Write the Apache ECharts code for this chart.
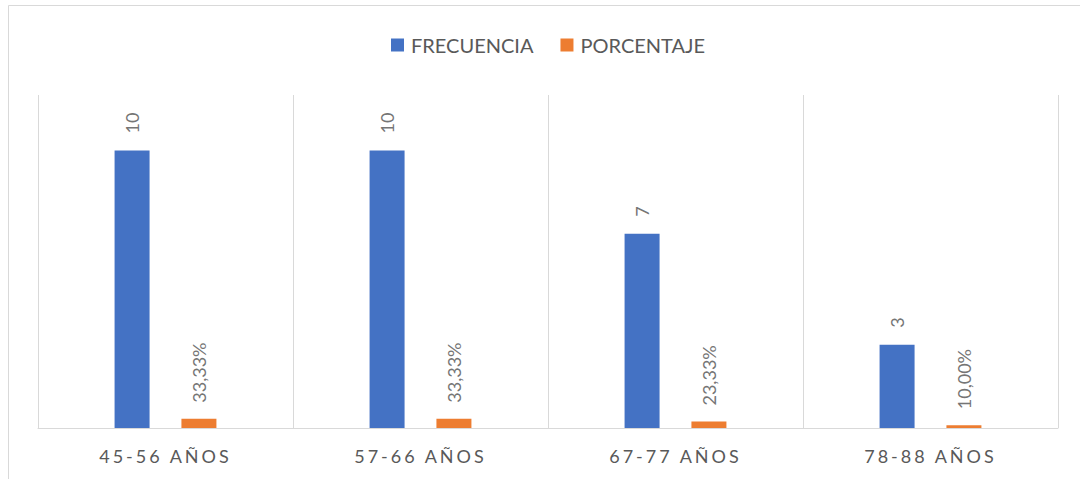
<!DOCTYPE html>
<html>
<head>
<meta charset="utf-8">
<script src="https://cdn.jsdelivr.net/npm/echarts@6/dist/echarts.min.js"></script>
<style>
  html, body { margin: 0; padding: 0; background: #fff; }
  #chart { width: 1080px; height: 479px; }
  /* category labels are spaced out like the original */
  #chart text[style*="DejaVu"] { letter-spacing: 3px; }
</style>
</head>
<body>
<div id="chart"></div>
<script>
  var categories = ['45-56 AÑOS', '57-66 AÑOS', '67-77 AÑOS', '78-88 AÑOS'];
  var frecuencia = [10, 10, 7, 3];
  var porcentaje = [0.3333, 0.3333, 0.2333, 0.10];

  var grayText = '#595959';
  var labelFont = 'Lato, "Open Sans", sans-serif';

  var chart = echarts.init(document.getElementById('chart'), null, { renderer: 'svg' });
  chart.setOption({
    animation: false,
    textStyle: { fontFamily: labelFont },
    graphic: [{
      type: 'rect',
      shape: { x: 8.5, y: 5.5, width: 1100, height: 500 },
      style: { fill: 'none', stroke: '#d9d9d9', lineWidth: 1 },
      z: -1
    }],
    legend: {
      top: 30,
      left: 386,
      itemWidth: 13,
      itemHeight: 13,
      itemGap: 27,
      icon: 'rect',
      textStyle: { fontSize: 20, color: grayText, fontFamily: labelFont, padding: [0, 0, 0, 2] },
      data: ['FRECUENCIA', 'PORCENTAJE']
    },
    grid: { left: 38, right: 22, top: 95, bottom: 51 },
    xAxis: {
      type: 'category',
      data: categories,
      axisTick: { show: false },
      axisLine: { lineStyle: { color: '#d9d9d9', width: 1 } },
      axisLabel: { fontSize: 18, color: grayText, margin: 19, fontFamily: 'Lato, "DejaVu Sans"' },
      splitLine: { show: true, lineStyle: { color: '#d9d9d9', width: 1 } }
    },
    yAxis: {
      type: 'value',
      min: 0,
      max: 12,
      show: false,
      splitLine: { show: false }
    },
    series: [
      {
        name: 'FRECUENCIA',
        type: 'bar',
        data: frecuencia,
        barWidth: 35,
        barGap: '91%',
        itemStyle: { color: '#4472c4' },
        label: {
          show: true,
          position: 'top',
          rotate: 90,
          align: 'left',
          verticalAlign: 'middle',
          distance: 17,
          fontSize: 18,
          color: '#757575',
          fontFamily: labelFont
        }
      },
      {
        name: 'PORCENTAJE',
        type: 'bar',
        data: porcentaje,
        barWidth: 35,
        itemStyle: { color: '#ed7d31' },
        label: {
          show: true,
          position: 'top',
          rotate: 90,
          align: 'left',
          verticalAlign: 'middle',
          distance: 16,
          fontSize: 18,
          color: '#757575',
          fontFamily: labelFont,
          formatter: function (p) {
            return (p.value * 100).toFixed(2).replace('.', ',') + '%';
          }
        }
      }
    ]
  });
</script>
</body>
</html>
